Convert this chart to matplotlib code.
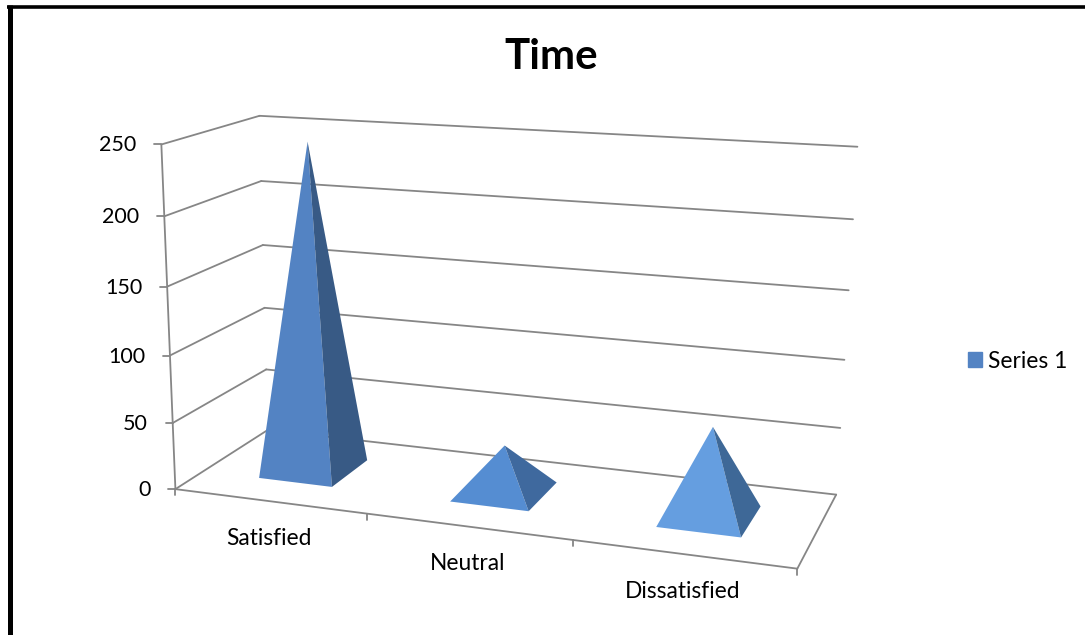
import numpy as np
import matplotlib

matplotlib.use('Agg')
import matplotlib.pyplot as plt
from matplotlib.patches import Patch

categories = ['Satisfied', 'Neutral', 'Dissatisfied']
values = [245, 35, 65]
y_ticks = [0, 50, 100, 150, 200, 250]
series_name = 'Series 1'
chart_title = 'Time'

front_colors = ['#5383C3', '#558DD2', '#659EE0']
side_colors = ['#385A85', '#3F699E', '#3E6897']
line_color = '#868686'

plt.rcParams['font.family'] = ['Lato', 'DejaVu Sans']

# camera fit: (u along categories, d depth, v value) -> picture pixels
calib_3d = [(0, 0, 0), (0, 0, 250), (0, 1, 0), (0, 1, 250), (1, 1, 0), (1, 1, 250),
            (1, 0, 0), (1 / 3, 0, 0), (2 / 3, 0, 0)]
calib_px = [(178, 487), (159, 144), (265, 431), (262, 116), (837, 493), (857, 147),
            (797, 569), (367, 515), (573, 541)]
rows = []
rhs = []
for (u, d, v), (px, py) in zip(calib_3d, calib_px):
    w = v / 250
    rows.append([u, d, w, 1, 0, 0, 0, 0, -px * u, -px * d, -px * w])
    rhs.append(px)
    rows.append([0, 0, 0, 0, u, d, w, 1, -py * u, -py * d, -py * w])
    rhs.append(py)
cam = np.append(np.linalg.lstsq(np.array(rows, float), np.array(rhs, float), rcond=None)[0], 1).reshape(3, 4)


def proj(u, d, v):
    p = cam @ np.array([u, d, v / 250, 1])
    return p[0] / p[2], p[1] / p[2]


def seg(a, b, lw=1.3):
    ax.plot([a[0], b[0]], [a[1], b[1]], color=line_color, lw=lw, solid_capstyle='round', zorder=1)


fig = plt.figure(figsize=(10.85, 6.35), dpi=100)
ax = fig.add_axes([0, 0, 1, 1])
ax.set_xlim(0, 1085)
ax.set_ylim(635, 0)
ax.axis('off')

# black frame, left and top only
ax.plot([9.8, 9.8], [635, 5], color='black', lw=3.6, solid_capstyle='butt', zorder=0)
ax.plot([7.3, 1085], [6.7, 6.7], color='black', lw=2.6, solid_capstyle='butt', zorder=0)

# walls and gridlines
for t in y_ticks:
    a = proj(0, 0, t)
    seg(a, proj(0, 1, t))
    if t > 0:
        seg(proj(0, 1, t), proj(1, 1, t))
    seg(a, (a[0] - 7, a[1]))
    ax.text(a[0] - 25, a[1] + 1, str(t), ha='right', va='center', fontsize=15.5, color='black')
seg(proj(0, 1, 0), proj(1, 1, 0))
seg(proj(0, 0, 0), proj(0, 0, 250))
seg(proj(0, 0, 0), proj(1, 0, 0))
seg(proj(1, 0, 0), proj(1, 1, 0))
for i in range(len(categories) + 1):
    p = proj(i / len(categories), 0, 0)
    seg(p, (p[0], p[1] + 6))

# pyramids
hw = 0.195 / len(categories)
hd = 0.215
for i, (val, fc, sc) in enumerate(zip(values, front_colors, side_colors)):
    uc = (i + 0.5) / len(categories)
    fl = proj(uc - hw, 0.5 - hd, 0)
    fr = proj(uc + hw, 0.5 - hd, 0)
    br = proj(uc + hw, 0.5 + hd, 0)
    top = proj(uc, 0.5, val)
    ax.fill(*zip(fl, fr, top), color=fc, lw=0, zorder=2)
    ax.fill(*zip(fr, br, top), color=sc, lw=0, zorder=2)
    lab = proj(uc, 0, 0)
    ax.text(lab[0], lab[1] + 37, categories[i], ha='center', va='center', fontsize=16.4, color='black')

ax.text(551, 57, chart_title, ha='center', va='center', fontsize=30.3, fontweight='bold', color='black')

ax.legend(handles=[Patch(color=front_colors[0], label=series_name)], loc='center left',
          bbox_to_anchor=(961 / 1085, 1 - 361 / 635), frameon=False, fontsize=16.4,
          handlelength=0.62, handleheight=0.62, handletextpad=0.26, borderpad=0, borderaxespad=0.3)

fig.savefig('out.png', dpi=100)
